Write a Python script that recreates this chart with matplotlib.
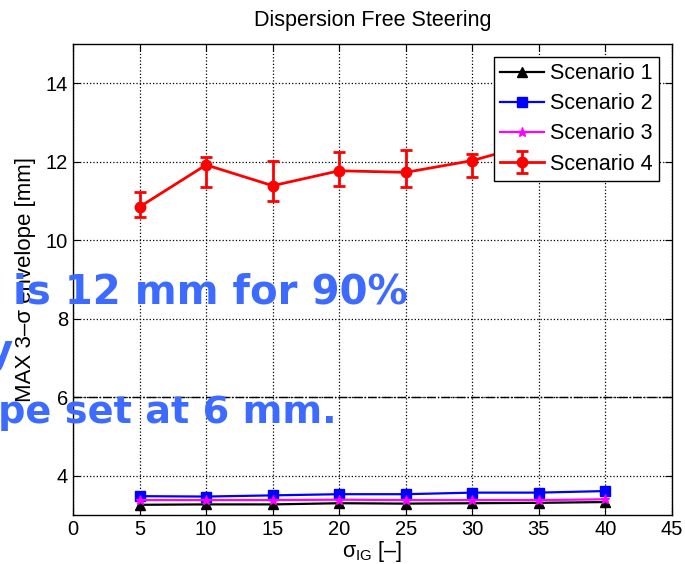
import matplotlib
matplotlib.use("Agg")
import matplotlib.pyplot as plt
import numpy as np

plt.rcParams['font.family'] = ['Liberation Sans', 'DejaVu Sans']
plt.rcParams['mathtext.fontset'] = 'custom'
plt.rcParams['mathtext.rm'] = 'Liberation Sans'
plt.rcParams['mathtext.it'] = 'Liberation Sans'

sigma_ig = [5, 10, 15, 20, 25, 30, 35, 40]
scen1 = [3.26, 3.27, 3.27, 3.30, 3.29, 3.30, 3.31, 3.33]
scen2 = [3.48, 3.47, 3.50, 3.53, 3.53, 3.57, 3.57, 3.61]
scen3 = [3.38, 3.38, 3.38, 3.39, 3.38, 3.38, 3.38, 3.40]
scen4 = [10.85, 11.92, 11.39, 11.77, 11.73, 12.03, 12.50, 12.60]
scen4_lo = [10.59, 11.35, 11.00, 11.39, 11.35, 11.60, 12.20, 12.30]
scen4_hi = [11.22, 12.11, 12.03, 12.26, 12.30, 12.21, 12.80, 12.90]
labels = ['Scenario 1', 'Scenario 2', 'Scenario 3', 'Scenario 4']
xticks = [0, 5, 10, 15, 20, 25, 30, 35, 40, 45]
yticks = [4, 6, 8, 10, 12, 14]
threshold = 6

W, H = 685, 564
fig = plt.figure(figsize=(W/100, H/100), dpi=100)
ax = fig.add_axes([73/W, 1-515/H, (672-73)/W, (515-44)/H])

ax.plot(sigma_ig, scen1, '-^', color='black', lw=1.6, ms=7.5, label=labels[0])
ax.plot(sigma_ig, scen2, '-s', color='blue', lw=1.6, ms=7.5, label=labels[1])
ax.plot(sigma_ig, scen3, '-*', color='magenta', lw=1.6, ms=6.5, label=labels[2])
yerr = [np.array(scen4) - np.array(scen4_lo), np.array(scen4_hi) - np.array(scen4)]
ax.errorbar(sigma_ig, scen4, yerr=yerr, fmt='-o', color='red', lw=2.0, ms=7.5,
            capsize=4, capthick=2.0, elinewidth=2.0, label=labels[3])
ax.axhline(threshold, color='black', ls='-.', lw=1.0, zorder=1)

ax.set_xlim(0, 45)
ax.set_ylim(3, 15)
ax.set_xticks(xticks)
ax.set_yticks(yticks)
ax.grid(True, color='black', ls=':', lw=0.9)
ax.tick_params(direction='in', top=True, right=True, labelsize=14.5, length=5)
for s in ax.spines.values():
    s.set_linewidth(1.0)

ax.set_title('Dispersion Free Steering', fontsize=15.5, pad=13)
ax.set_xlabel(r'$\mathrm{\sigma_{IG}}$ [–]', fontsize=15.5, labelpad=0)
ax.set_ylabel('MAX 3–σ envelope [mm]', fontsize=16, labelpad=7)

leg = ax.legend(loc='upper right', fontsize=15.5, frameon=True, fancybox=False,
                edgecolor='black', framealpha=1, handlelength=2.0,
                labelspacing=0.42, borderaxespad=0.6, handletextpad=0.3,
                borderpad=0.3)
leg.get_frame().set_linewidth(1.0)

blue = '#3d6bff'
fig.text(13/W, 1-303/H, 'is 12 mm for 90%', color=blue, fontsize=29,
         fontweight='bold', family='DejaVu Sans', va='baseline', ha='left')
fig.text(13/W, 1-363/H, 'y', color=blue, fontsize=29,
         fontweight='bold', family='DejaVu Sans', va='baseline', ha='right')
fig.text(-2/W, 1-423/H, 'pe set at 6 mm.', color=blue, fontsize=27.5,
         fontweight='bold', family='DejaVu Sans', va='baseline', ha='left')

fig.savefig('out.png', dpi=100)
